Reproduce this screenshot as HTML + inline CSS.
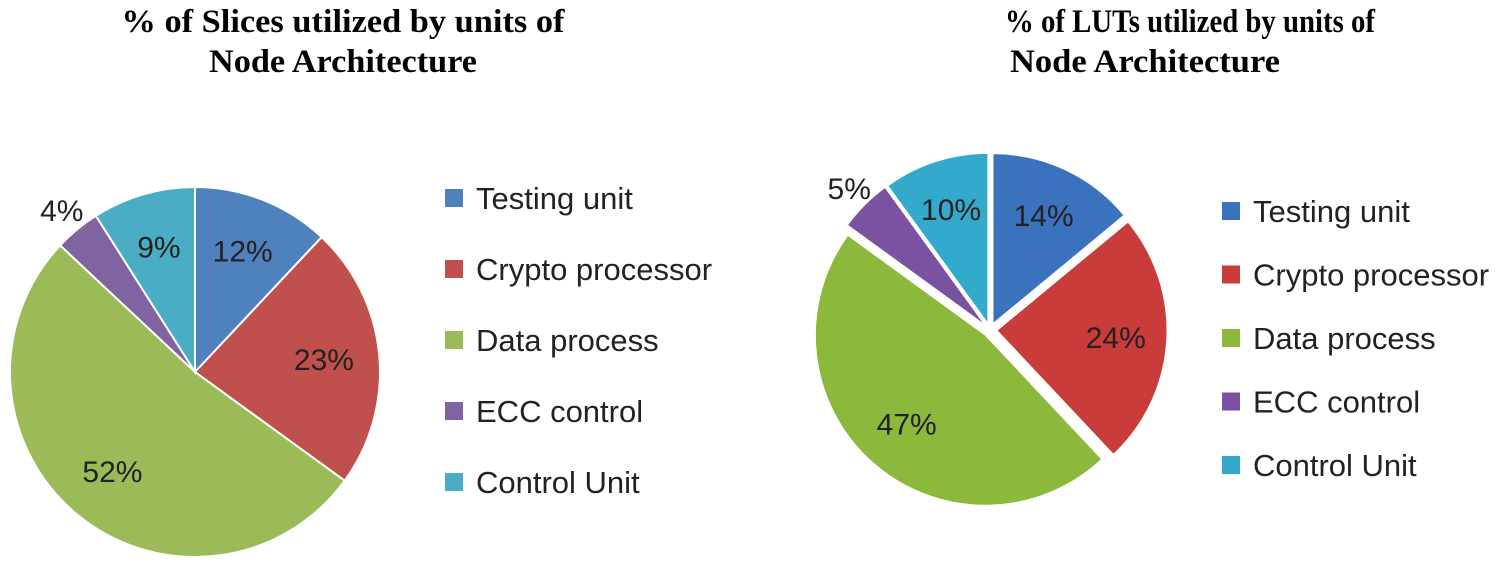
<!DOCTYPE html>
<html><head><meta charset="utf-8"><style>
body{margin:0;background:#fff;width:1500px;height:567px;overflow:hidden}
svg text{font-family:"Liberation Sans",sans-serif}
</style></head><body>
<svg id="s" width="1500" height="567">
<text x="343" y="32" text-anchor="middle" font-weight="bold" font-size="33" style="font-family:'Liberation Serif',serif"><tspan x="343" textLength="443" lengthAdjust="spacingAndGlyphs">% of Slices utilized by units of</tspan><tspan x="343" dy="40" textLength="268" lengthAdjust="spacingAndGlyphs">Node Architecture</tspan></text>
<text x="1190" y="32" text-anchor="middle" font-weight="bold" font-size="33" style="font-family:'Liberation Serif',serif"><tspan x="1190" textLength="370" lengthAdjust="spacingAndGlyphs">% of LUTs  utilized by units of</tspan><tspan x="1145" dy="40" textLength="270" lengthAdjust="spacingAndGlyphs">Node Architecture</tspan></text>
</svg>
<script>
const categories=["Testing unit","Crypto processor","Data process","ECC control","Control Unit"];
const slicesValues=[12,23,52,4,9];
const lutsValues=[14,24,47,5,10];
const leftColors=["#4f81bd","#c0504d","#9bbb59","#8064a2","#4bacc6"];
const rightColors=["#3b72be","#c93c39","#8cb83c","#7a52a1","#33a9cc"];
const svg=document.getElementById('s');
const NS="http://www.w3.org/2000/svg";
function mk(t,a){const e=document.createElementNS(NS,t);for(const k in a)e.setAttribute(k,a[k]);svg.appendChild(e);return e;}
function pie(vals,cols,cx,cy,r,explode,name){
  const tot=vals.reduce((a,b)=>a+b,0);let acc=0;
  vals.forEach((v,i)=>{
    const a0=acc/tot*2*Math.PI;acc+=v;const a1=acc/tot*2*Math.PI;const am=(a0+a1)/2;
    const ox=cx+explode*Math.sin(am),oy=cy-explode*Math.cos(am);
    const x0=ox+r*Math.sin(a0),y0=oy-r*Math.cos(a0),x1=ox+r*Math.sin(a1),y1=oy-r*Math.cos(a1);
    const p=mk('path',{d:`M${ox},${oy}L${x0},${y0}A${r},${r} 0 ${a1-a0>Math.PI?1:0} 1 ${x1},${y1}Z`,fill:cols[i],stroke:'#fff','stroke-width':explode?1:2});
    
    
    const lr=(v/tot<0.07)?r*1.13:r*0.7;
    const t=mk('text',{x:ox+lr*Math.sin(am),y:oy-lr*Math.cos(am)+10,'text-anchor':'middle','font-size':30,fill:'#222'});
    t.textContent=v+'%';
    
    
  });
}
function legend(cols,x,y0,dy,fs,name){
  categories.forEach((c,i)=>{
    const y=y0+i*dy;
    const r=mk('rect',{x:x,y:y-9,width:18,height:18,fill:cols[i]});
    
    
    const t=mk('text',{x:x+31,y:y+11,'font-size':fs,fill:'#222'});
    t.textContent=c;
    
    
  });
}
pie(slicesValues,leftColors,195,372,185,0,'slices');
pie(lutsValues,rightColors,990,330,170,7,'luts');
legend(leftColors,445,198,71,31,'slices');
legend(rightColors,1222,211,63.5,31,'luts');
</script>
</body></html>
